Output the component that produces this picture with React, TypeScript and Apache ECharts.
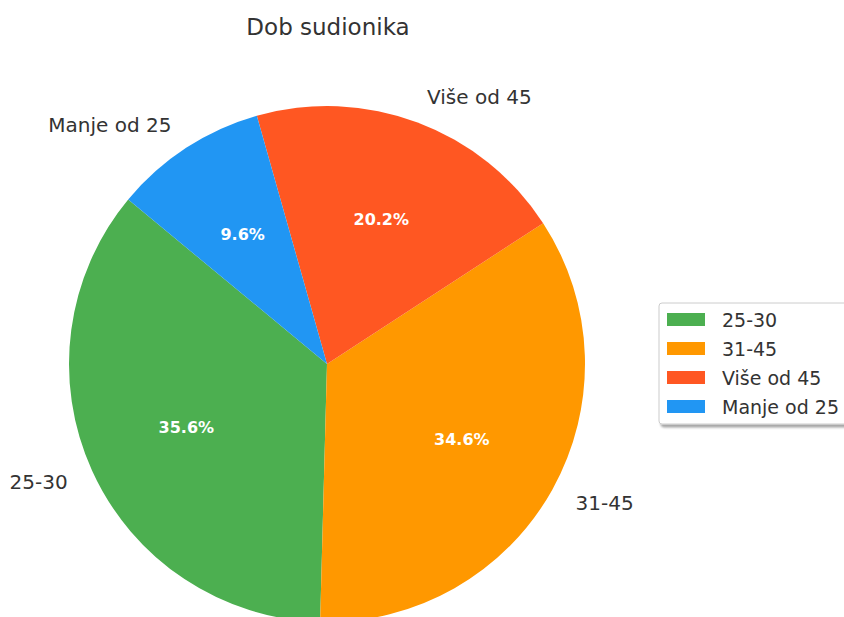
import React, { useEffect, useRef } from "react";
import * as echarts from "echarts";

const categories = ["25-30", "31-45", "Više od 45", "Manje od 25"];
const counts = [74, 72, 42, 20];
const colors = ["#4CAF50", "#FF9800", "#FF5722", "#2196F3"];
const titleText = "Dob sudionika";

const FONT = "DejaVu Sans";

export default function App() {
  const ref = useRef<HTMLDivElement>(null);
  useEffect(() => {
    if (!ref.current) return;
    const chart = echarts.init(ref.current, null, { renderer: "svg" });
    const R = 258;
    const center = [327, 364];
    const data = categories.map((c, i) => ({ name: c, value: counts[i], itemStyle: { color: colors[i] } }));
    chart.setOption({
      animation: false,
      backgroundColor: "#ffffff",
      title: {
        text: titleText,
        left: 323,
        textAlign: "center",
        top: 10,
        textStyle: { fontFamily: FONT, fontSize: 23, fontWeight: "normal", color: "#333333" },
      },
      legend: {
        orient: "vertical",
        left: 659,
        top: 303,
        padding: [7, 10, 8, 8],
        itemWidth: 38,
        itemHeight: 13,
        itemGap: 10,
        icon: "rect",
        backgroundColor: "#ffffff",
        borderColor: "#cccccc",
        borderWidth: 1,
        borderRadius: 3,
        shadowColor: "rgba(0,0,0,0.35)",
        shadowBlur: 2,
        shadowOffsetX: 2,
        shadowOffsetY: 3,
        selectedMode: false,
        textStyle: { fontFamily: FONT, fontSize: 19, color: "#333333", padding: [0, 0, 0, 12] },
        data: categories,
      },
      series: [
        {
          type: "pie",
          center,
          radius: [0, R],
          startAngle: 140.4,
          clockwise: false,
          silent: true,
          avoidLabelOverlap: false,
          data,
          label: {
            show: true,
            position: "outside",
            formatter: "{b}",
            fontFamily: FONT,
            fontSize: 20,
            color: "#333333",
            distanceToLabelLine: 0,
          },
          labelLine: { show: false, length: R * 0.1 + 1, length2: 0 },
        },
        {
          type: "pie",
          center,
          radius: [45, R],
          startAngle: 140.4,
          clockwise: false,
          silent: true,
          percentPrecision: 1,
          avoidLabelOverlap: false,
          data: categories.map((c, i) => ({ name: c, value: counts[i], itemStyle: { color: "rgba(0,0,0,0)" } })),
          label: {
            show: true,
            position: "inside",
            formatter: "{d}%",
            fontFamily: FONT,
            fontSize: 16,
            fontWeight: "bold",
            color: "#ffffff",
          },
          labelLine: { show: false },
        },
      ],
    });
    return () => chart.dispose();
  }, []);
  return <div ref={ref} style={{ position: "fixed", left: 0, top: 0, width: 844, height: 617 }} />;
}
